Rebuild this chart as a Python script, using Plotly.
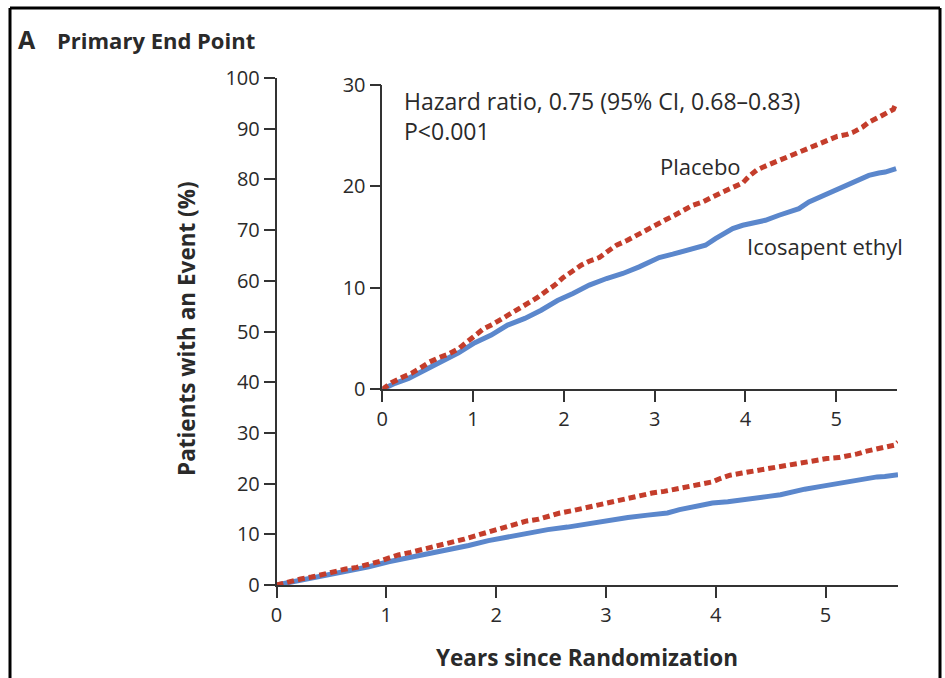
import plotly.graph_objects as go

# ---------------- data ----------------
placebo_years = [0, 0.10, 0.22, 0.32, 0.43, 0.52, 0.63, 0.73, 0.84, 0.94, 1.02, 1.11, 1.22, 1.31,
                 1.41, 1.51, 1.62, 1.71, 1.81, 1.90, 1.99, 2.08, 2.19, 2.28, 2.39, 2.50, 2.58,
                 2.70, 2.80, 2.89, 3.00, 3.11, 3.22, 3.31, 3.42, 3.53, 3.64, 3.75, 3.86, 3.97,
                 4.04, 4.13, 4.24, 4.35, 4.46, 4.57, 4.68, 4.79, 4.90, 5.01, 5.12, 5.19, 5.29,
                 5.36, 5.47, 5.63, 5.66]
placebo_pct = [0, 0.65, 1.18, 1.57, 2.16, 2.69, 3.15, 3.47, 4.0, 4.66, 5.31, 5.93, 6.43, 6.89,
               7.48, 7.97, 8.46, 9.05, 9.71, 10.27, 11.0, 11.55, 12.23, 12.63, 12.99, 13.71, 14.2,
               14.69, 15.19, 15.68, 16.17, 16.66, 17.16, 17.58, 18.14, 18.47, 19.0, 19.45, 19.9,
               20.34, 21.0, 21.65, 22.08, 22.5, 22.9, 23.29, 23.72, 24.14, 24.6, 24.93, 25.13,
               25.36, 25.85, 26.34, 26.83, 27.6, 28.2]

ico_years = [0, 0.14, 0.29, 0.47, 0.65, 0.84, 1.02, 1.20, 1.38, 1.57, 1.75, 1.93, 2.10, 2.28,
             2.47, 2.65, 2.83, 2.98, 3.05, 3.20, 3.38, 3.56, 3.67, 3.78, 3.86, 3.97, 4.11, 4.22,
             4.37, 4.48, 4.59, 4.70, 4.81, 4.96, 5.07, 5.18, 5.29, 5.36, 5.47, 5.54, 5.66]
ico_pct = [0, 0.59, 1.08, 1.9, 2.72, 3.6, 4.59, 5.34, 6.33, 6.99, 7.8, 8.75, 9.45, 10.27,
           10.92, 11.42, 12.07, 12.73, 12.99, 13.32, 13.78, 14.2, 14.86, 15.41, 15.85, 16.17,
           16.4, 16.66, 17.16, 17.48, 17.81, 18.47, 18.9, 19.45, 19.88, 20.27, 20.77, 21.09,
           21.32, 21.42, 21.75]

main_yticks = [0, 10, 20, 30, 40, 50, 60, 70, 80, 90, 100]
inset_yticks = [0, 10, 20, 30]
xticks = [0, 1, 2, 3, 4, 5]

# ---------------- styling ----------------
W, H = 945, 678
RED = "#c43d2b"
BLUE = "#5b87cc"
AX = "#333333"
TXT = "#2a2a2a"
FONT = "Open Sans, DejaVu Sans, sans-serif"


def fx(px):
    return px / W


def fy(py):
    return 1 - py / H


fig = go.Figure()

fig.add_trace(go.Scatter(x=ico_years, y=ico_pct, mode="lines", line=dict(color=BLUE, width=5),
                         xaxis="x", yaxis="y", showlegend=False, hoverinfo="skip"))
fig.add_trace(go.Scatter(x=placebo_years, y=placebo_pct, mode="lines",
                         line=dict(color=RED, width=5, dash="7px,4px"),
                         xaxis="x", yaxis="y", showlegend=False, hoverinfo="skip"))
fig.add_trace(go.Scatter(x=ico_years, y=ico_pct, mode="lines", line=dict(color=BLUE, width=5),
                         xaxis="x2", yaxis="y2", showlegend=False, hoverinfo="skip"))
fig.add_trace(go.Scatter(x=placebo_years, y=placebo_pct, mode="lines",
                         line=dict(color=RED, width=5, dash="7px,4px"),
                         xaxis="x2", yaxis="y2", showlegend=False, hoverinfo="skip"))

axis_common = dict(showline=True, linecolor=AX, linewidth=1.5, ticks="outside", ticklen=11,
                   tickwidth=1.5, tickcolor=AX, showgrid=False, zeroline=False,
                   automargin=False,
                   tickfont=dict(family=FONT, size=20, color=TXT))

fig.update_layout(
    template="none",
    width=W, height=H, autosize=False,
    margin=dict(l=0, r=0, t=0, b=0, pad=0),
    paper_bgcolor="white", plot_bgcolor="rgba(0,0,0,0)",
    xaxis=dict(domain=[fx(276.5), fx(898)], range=[0, 5.66], tickvals=xticks,
               anchor="y", **axis_common),
    yaxis=dict(domain=[fy(585), fy(78)], range=[0, 100], tickvals=main_yticks,
               anchor="x", **axis_common),
    xaxis2=dict(domain=[fx(382.3), fx(897)], range=[0, 5.67], tickvals=xticks,
                anchor="y2", **axis_common),
    yaxis2=dict(domain=[fy(389.3), fy(85)], range=[0, 30], tickvals=inset_yticks,
                anchor="x2", **axis_common),
)

annotations = [
    dict(text="<b>A</b>", x=fx(16), y=fy(39), xanchor="left", yanchor="middle",
         font=dict(family=FONT, size=25, color=TXT)),
    dict(text="<b>Primary End Point</b>", x=fx(55), y=fy(40), xanchor="left", yanchor="middle",
         font=dict(family=FONT, size=22, color=TXT)),
    dict(text="<b>Patients with an Event (%)</b>", x=fx(186), y=fy(329), textangle=-90,
         xanchor="center", yanchor="middle", font=dict(family=FONT, size=22.5, color=TXT)),
    dict(text="<b>Years since Randomization</b>", x=fx(587), y=fy(657), xanchor="center",
         yanchor="middle", font=dict(family=FONT, size=22.5, color=TXT)),
]
for a in annotations:
    a.update(xref="paper", yref="paper", showarrow=False)

inset_text = [
    dict(text="Hazard ratio, 0.75 (95% CI, 0.68\u20130.83)", x=0.22, y=28.4, xanchor="left",
         size=23),
    dict(text="P<0.001", x=0.22, y=25.5, xanchor="left", size=23),
    dict(text="Placebo", x=3.5, y=22.0, xanchor="center", size=22),
    dict(text="Icosapent ethyl", x=4.0, y=14.1, xanchor="left", size=22),
]
for a in inset_text:
    sz = a.pop("size")
    a.update(xref="x2", yref="y2", showarrow=False, yanchor="middle",
             font=dict(family=FONT, size=sz, color=TXT))

fig.update_layout(annotations=annotations + inset_text)

frame = dict(type="line", xref="paper", yref="paper", line=dict(color="black", width=3))
fig.add_shape(**frame, x0=fx(10), x1=fx(10), y0=0, y1=fy(8))
fig.add_shape(**frame, x0=fx(10), x1=fx(940), y0=fy(8), y1=fy(8))
fig.add_shape(**frame, x0=fx(940), x1=fx(940), y0=0, y1=fy(8))

fig.write_html("out.html", config={"displayModeBar": False},
               post_script="document.body.style.margin='0';")
